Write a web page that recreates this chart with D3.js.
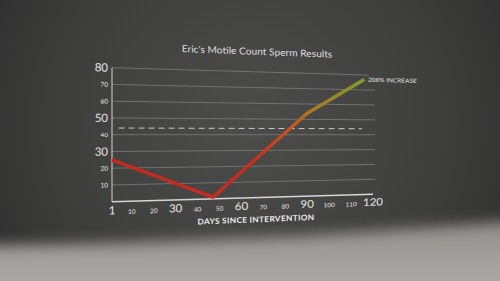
<!DOCTYPE html>
<html>
  <head>
    <meta charset="utf-8">
    <title>Eric's Motile Count Sperm Results</title>
    <script src="https://cdn.jsdelivr.net/npm/d3@7"></script>
    <style>
      html, body { margin: 0; padding: 0; background: #333; }
      svg { display: block; font-family: Lato, "Open Sans", sans-serif; }
    </style>
  </head>
  <body>
    <div id="chart"></div>
    <script>
      // values
      var days = [1, 47, 90, 116];
      var counts = [25, 1, 54, 77];
      var baseline = 44;            // dashed reference line
      var baselineDays = [4, 115];
      var xTicks = [1, 10, 20, 30, 40, 50, 60, 70, 80, 90, 100, 110, 120];
      var xBig = [1, 30, 60, 90, 120];
      var yTicks = [10, 20, 30, 40, 50, 60, 70, 80];
      var yBig = [30, 50, 80];
      var title = "Eric's Motile Count Sperm Results";
      var xTitle = "DAYS SINCE INTERVENTION";
      var note = "208% INCREASE";

      var W = 500, H = 281;
      var x = d3.scaleLinear().domain([1, 120]).range([112, 373]);
      var y = d3.scaleLinear().domain([0, 80]).range([201.7, 67.7]);

      // the chart is seen at an angle: shrink it toward y=YC as it goes right
      var YC = 135, K = 0.000429;
      function shrink(px) { return 1 - K * (px - 112); }
      function warp(p) {
        var s = shrink(p[0]);
        return [p[0], YC + (p[1] - YC) * s];
      }
      function textAt(px, py) {
        var q = warp([px, py]);
        return "matrix(1," + (-(py - YC) * K) + ",0," + shrink(px) + "," + q[0] + "," + q[1] + ")";
      }

      var svg = d3.select("#chart").append("svg")
        .attr("width", W)
        .attr("height", H);

      var defs = svg.append("defs");
      var bg = defs.append("radialGradient").attr("id", "bg")
        .attr("gradientUnits", "userSpaceOnUse")
        .attr("cx", 250).attr("cy", 125).attr("r", 330);
      bg.append("stop").attr("offset", 0).attr("stop-color", "#4c4c4b");
      bg.append("stop").attr("offset", 0.55).attr("stop-color", "#3f3f3e");
      bg.append("stop").attr("offset", 1).attr("stop-color", "#2b2b2b");

      var fl = defs.append("linearGradient").attr("id", "floor")
        .attr("x1", 0).attr("y1", 0).attr("x2", 0).attr("y2", 1);
      fl.append("stop").attr("offset", 0).attr("stop-color", "#8f8c89");
      fl.append("stop").attr("offset", 0.5).attr("stop-color", "#a7a4a1");
      fl.append("stop").attr("offset", 1).attr("stop-color", "#aeaba8");

      defs.append("filter").attr("id", "blur")
        .attr("x", -0.2).attr("y", -0.5).attr("width", 1.4).attr("height", 2)
        .append("feGaussianBlur").attr("stdDeviation", 7);

      var lg = defs.append("linearGradient").attr("id", "lineGrad")
        .attr("gradientUnits", "userSpaceOnUse")
        .attr("x1", x(1)).attr("y1", 0).attr("x2", x(116)).attr("y2", 0);
      lg.append("stop").attr("offset", 0).attr("stop-color", "#c42a1e");
      lg.append("stop").attr("offset", 0.55).attr("stop-color", "#c62e1e");
      lg.append("stop").attr("offset", 0.7).attr("stop-color", "#c4531f");
      lg.append("stop").attr("offset", 0.77).attr("stop-color", "#b07222");
      lg.append("stop").attr("offset", 1).attr("stop-color", "#7f9e2a");

      svg.append("rect").attr("width", W).attr("height", H).attr("fill", "url(#bg)");
      svg.append("path")
        .attr("d", "M-30,246 L120,243 L300,236 L530,220 L530,320 L-30,320 Z")
        .attr("fill", "url(#floor)")
        .attr("filter", "url(#blur)");

      var g = svg.append("g");

      // grid lines
      g.selectAll("line.grid")
        .data(yTicks)
        .enter().append("line")
          .attr("class", "grid")
          .each(function (d) {
            var a = warp([x(1), y(d)]);
            var b = warp([x(d === 80 ? 118 : 121), y(d)]);
            d3.select(this).attr("x1", a[0]).attr("y1", a[1]).attr("x2", b[0]).attr("y2", b[1]);
          })
          .attr("stroke", "#7c7c7b")
          .attr("stroke-width", 0.8);

      // dashed reference
      var d0 = warp([x(baselineDays[0]), y(baseline)]);
      var d1 = warp([x(baselineDays[1]), y(baseline)]);
      g.append("line")
        .attr("x1", d0[0]).attr("y1", d0[1]).attr("x2", d1[0]).attr("y2", d1[1])
        .attr("stroke", "#c9c9c9")
        .attr("stroke-width", 1)
        .attr("stroke-dasharray", "6,4");

      // axes
      var origin = warp([x(1), y(0)]), yTop = warp([x(1), y(80)]), xEnd = warp([x(120), y(0)]);
      g.append("line")
        .attr("x1", yTop[0]).attr("y1", yTop[1]).attr("x2", origin[0]).attr("y2", origin[1])
        .attr("stroke", "#bdbdbd").attr("stroke-width", 1.2);
      g.append("line")
        .attr("x1", origin[0]).attr("y1", origin[1]).attr("x2", xEnd[0]).attr("y2", xEnd[1])
        .attr("stroke", "#d6d6d6").attr("stroke-width", 1.5);

      // data line
      var pts = days.map(function (d, i) { return warp([x(d), y(counts[i])]); });
      g.append("path")
        .attr("d", d3.line()(pts))
        .attr("fill", "none")
        .attr("stroke", "url(#lineGrad)")
        .attr("stroke-width", 3.5)
        .attr("stroke-linejoin", "round");

      // y tick labels
      g.selectAll("text.ylab")
        .data(yTicks)
        .enter().append("text")
          .attr("class", "ylab")
          .attr("transform", function (d) { return textAt(108, y(d)); })
          .attr("dy", "0.36em")
          .attr("text-anchor", "end")
          .attr("fill", "#e6e6e6")
          .attr("font-size", function (d) { return yBig.indexOf(d) >= 0 ? 11.5 : 6.5; })
          .text(function (d) { return d; });

      // x tick labels
      g.selectAll("text.xlab")
        .data(xTicks)
        .enter().append("text")
          .attr("class", "xlab")
          .attr("transform", function (d) { return textAt(x(d), 214.5); })
          .attr("text-anchor", "middle")
          .attr("fill", "#e6e6e6")
          .attr("font-size", function (d) { return xBig.indexOf(d) >= 0 ? 11.5 : 6.5; })
          .text(function (d) { return d; });

      // titles
      g.append("text")
        .attr("transform", textAt(257, 49.5))
        .attr("text-anchor", "middle")
        .attr("fill", "#dedede")
        .attr("font-size", 10.2)
        .text(title);

      g.append("text")
        .attr("transform", textAt(256, 228))
        .attr("text-anchor", "middle")
        .attr("fill", "#ececec")
        .attr("font-size", 8.3)
        .attr("font-weight", "bold")
        .attr("letter-spacing", 0.3)
        .text(xTitle);

      g.append("text")
        .attr("transform", textAt(368, y(77) + 2.5))
        .attr("fill", "#e8e8e8")
        .attr("font-size", 6.5)
        .text(note);
    </script>
  </body>
</html>
